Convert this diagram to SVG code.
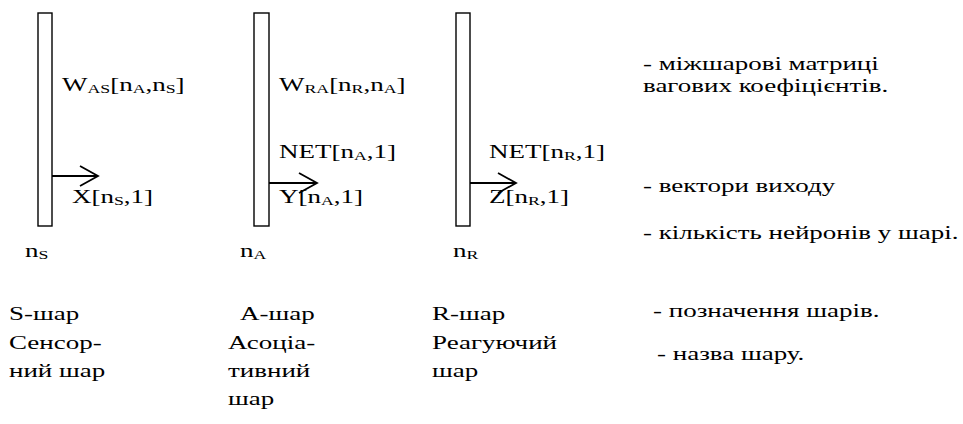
<svg xmlns="http://www.w3.org/2000/svg" width="963" height="424" viewBox="0 0 963 424">
<style>
text{font-family:"Liberation Serif","Times New Roman",serif;font-size:19px;fill:#000}
.sub{font-size:12.5px}
.layer{fill:#fff;stroke:#000;stroke-width:1.4}
.conn{stroke:#000;stroke-width:1.8;fill:none}
</style>
<defs>
<marker id="arr" markerWidth="20" markerHeight="22" refX="18" refY="10" orient="auto" markerUnits="userSpaceOnUse" overflow="visible">
<path d="M0,0 L18,10 L0,20" fill="none" stroke="#000" stroke-width="1.8"/>
</marker>
</defs>
<g id="layer-S">
<rect class="layer" x="38" y="13" width="14" height="213"/>
<text transform="translate(62,91) scale(1.42,1)">W<tspan class="sub" dy="2">AS</tspan><tspan dy="-2">[n</tspan><tspan class="sub" dy="2">A</tspan><tspan dy="-2">,n</tspan><tspan class="sub" dy="2">S</tspan><tspan dy="-2">]</tspan></text>
<text transform="translate(72,203) scale(1.42,1)">X[n<tspan class="sub" dy="2">S</tspan><tspan dy="-2">,1]</tspan></text>
<text transform="translate(25,257) scale(1.42,1)">n<tspan class="sub" dy="2">S</tspan></text>
<text transform="translate(9,320) scale(1.42,1)">S-шар</text>
<text transform="translate(9,349) scale(1.42,1)">Сенсор-</text>
<text transform="translate(9,377) scale(1.42,1)">ний шар</text>
</g>
<g id="layer-A">
<rect class="layer" x="254" y="13" width="15" height="213"/>
<text transform="translate(279,91) scale(1.42,1)">W<tspan class="sub" dy="2">RA</tspan><tspan dy="-2">[n</tspan><tspan class="sub" dy="2">R</tspan><tspan dy="-2">,n</tspan><tspan class="sub" dy="2">A</tspan><tspan dy="-2">]</tspan></text>
<text transform="translate(279,158) scale(1.42,1)">NET[n<tspan class="sub" dy="2">A</tspan><tspan dy="-2">,1]</tspan></text>
<text transform="translate(279,203) scale(1.42,1)">Y[n<tspan class="sub" dy="2">A</tspan><tspan dy="-2">,1]</tspan></text>
<text transform="translate(240,257) scale(1.42,1)">n<tspan class="sub" dy="2">A</tspan></text>
<text transform="translate(240,320) scale(1.42,1)">А-шар</text>
<text transform="translate(228,349) scale(1.42,1)">Асоціа-</text>
<text transform="translate(228,377) scale(1.42,1)">тивний</text>
<text transform="translate(228,405) scale(1.42,1)">шар</text>
</g>
<g id="layer-R">
<rect class="layer" x="456" y="13" width="14" height="213"/>
<text transform="translate(489,158) scale(1.42,1)">NET[n<tspan class="sub" dy="2">R</tspan><tspan dy="-2">,1]</tspan></text>
<text transform="translate(489,203) scale(1.42,1)">Z[n<tspan class="sub" dy="2">R</tspan><tspan dy="-2">,1]</tspan></text>
<text transform="translate(453,257) scale(1.42,1)">n<tspan class="sub" dy="2">R</tspan></text>
<text transform="translate(432,320) scale(1.42,1)">R-шар</text>
<text transform="translate(432,349) scale(1.42,1)">Реагуючий</text>
<text transform="translate(432,377) scale(1.42,1)">шар</text>
</g>
<g id="legend">
<text transform="translate(643,70) scale(1.42,1)">- міжшарові матриці</text>
<text transform="translate(643,92) scale(1.42,1)">вагових коефіцієнтів.</text>
<text transform="translate(643,192) scale(1.42,1)">-  вектори виходу</text>
<text transform="translate(643,239) scale(1.42,1)">- кількість нейронів у шарі.</text>
<text transform="translate(653,317) scale(1.42,1)">- позначення шарів.</text>
<text transform="translate(657,360) scale(1.42,1)">- назва шару.</text>
</g>
<g id="connectors">
<line class="conn" x1="52" y1="176" x2="98" y2="176" marker-end="url(#arr)"/>
<line class="conn" x1="269" y1="183" x2="317" y2="183" marker-end="url(#arr)"/>
<line class="conn" x1="470" y1="183" x2="516" y2="183" marker-end="url(#arr)"/>
</g>
</svg>
